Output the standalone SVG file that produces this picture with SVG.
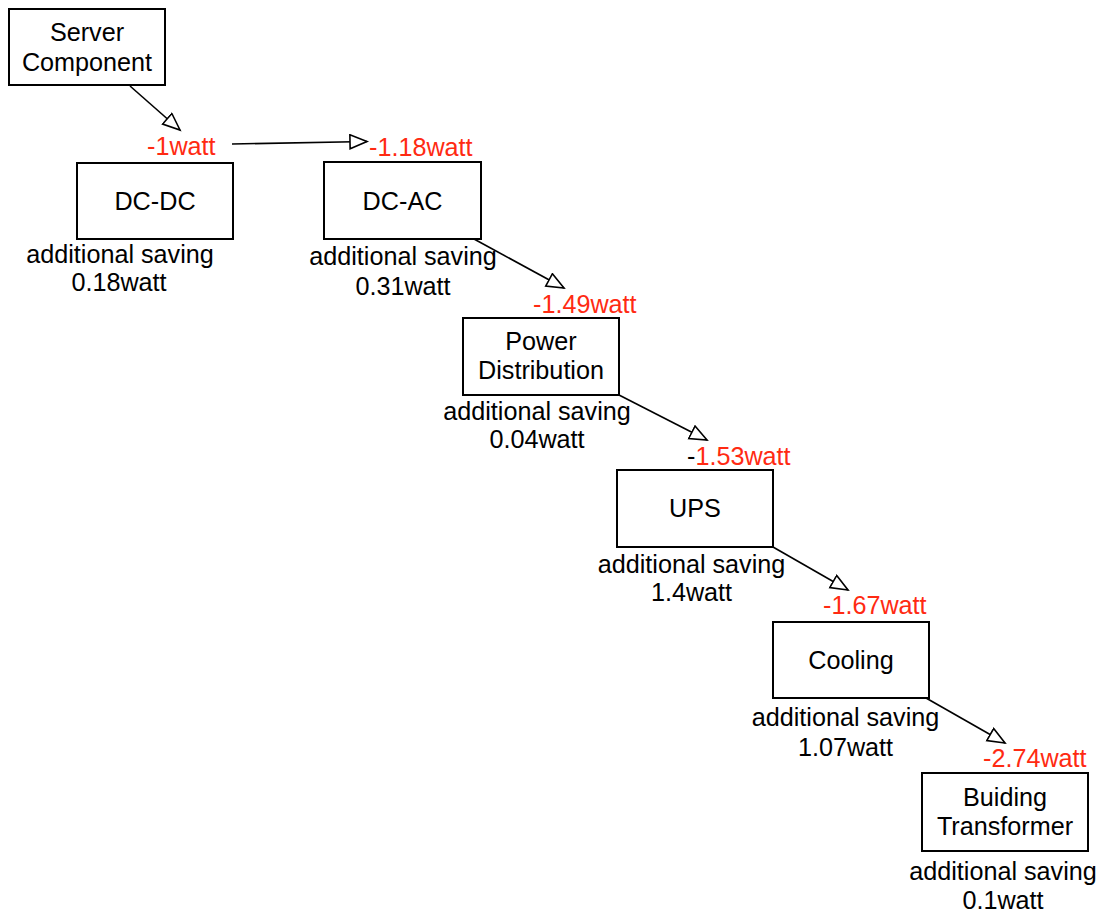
<svg xmlns="http://www.w3.org/2000/svg" width="1110" height="913" viewBox="0 0 1110 913">
  <style>
    .box { fill: #ffffff; stroke: #000000; stroke-width: 2; }
    .lbl { font-family: "Liberation Sans", Arial, sans-serif; font-size: 25.2px; fill: #000000; text-anchor: middle; }
    .val { font-family: "Liberation Sans", Arial, sans-serif; font-size: 25.2px; fill: #ff2a12; }
    .blk { fill: #000000; }
    .edge { stroke: #000000; stroke-width: 1.6; fill: none; marker-end: url(#open); }
  </style>
  <defs>
    <marker id="open" markerUnits="userSpaceOnUse" markerWidth="22" markerHeight="18" refX="18" refY="8" orient="auto">
      <path d="M1,1 L18,8 L1,15 Z" fill="#ffffff" stroke="#000000" stroke-width="1.6"/>
    </marker>
  </defs>
  <rect width="1110" height="913" fill="#ffffff"/>

  <g id="connectors">
    <line class="edge" x1="130" y1="86" x2="180" y2="130"/>
    <line class="edge" x1="232" y1="144" x2="367" y2="141.5"/>
    <line class="edge" x1="474" y1="239" x2="564" y2="288"/>
    <line class="edge" x1="619" y1="395" x2="707" y2="440"/>
    <line class="edge" x1="773" y1="547" x2="848" y2="590"/>
    <line class="edge" x1="926" y1="698" x2="1005" y2="743"/>
  </g>

  <g id="server-component">
    <rect class="box" x="9" y="9" width="156" height="76"/>
    <text class="lbl" x="87" y="41">Server</text>
    <text class="lbl" x="87" y="71">Component</text>
  </g>

  <g id="dc-dc">
    <text class="val" x="147" y="155">-1watt</text>
    <rect class="box" x="77" y="163" width="156" height="76"/>
    <text class="lbl" x="155" y="210">DC-DC</text>
    <text class="lbl" x="120" y="263">additional saving</text>
    <text class="lbl" x="119" y="291">0.18watt</text>
  </g>

  <g id="dc-ac">
    <text class="val" x="369" y="156">-1.18watt</text>
    <rect class="box" x="324" y="162" width="157" height="77"/>
    <text class="lbl" x="402.5" y="210">DC-AC</text>
    <text class="lbl" x="403" y="265">additional saving</text>
    <text class="lbl" x="403" y="295">0.31watt</text>
  </g>

  <g id="power-distribution">
    <text class="val" x="533" y="313">-1.49watt</text>
    <rect class="box" x="463" y="318" width="156" height="77"/>
    <text class="lbl" x="541" y="350">Power</text>
    <text class="lbl" x="541" y="379">Distribution</text>
    <text class="lbl" x="537" y="420">additional saving</text>
    <text class="lbl" x="537" y="448">0.04watt</text>
  </g>

  <g id="ups">
    <text class="val" x="687" y="465"><tspan class="blk">-</tspan>1.53watt</text>
    <rect class="box" x="617" y="470" width="156" height="77"/>
    <text class="lbl" x="695" y="517">UPS</text>
    <text class="lbl" x="691.5" y="573">additional saving</text>
    <text class="lbl" x="691.5" y="601">1.4watt</text>
  </g>

  <g id="cooling">
    <text class="val" x="823" y="614">-1.67watt</text>
    <rect class="box" x="773" y="622" width="156" height="76"/>
    <text class="lbl" x="851" y="669">Cooling</text>
    <text class="lbl" x="845.5" y="726">additional saving</text>
    <text class="lbl" x="845.5" y="756">1.07watt</text>
  </g>

  <g id="building-transformer">
    <text class="val" x="983" y="767">-2.74watt</text>
    <rect class="box" x="922" y="773" width="166" height="78"/>
    <text class="lbl" x="1005" y="806">Buiding</text>
    <text class="lbl" x="1005" y="835">Transformer</text>
    <text class="lbl" x="1003" y="880">additional saving</text>
    <text class="lbl" x="1003" y="909">0.1watt</text>
  </g>
</svg>
